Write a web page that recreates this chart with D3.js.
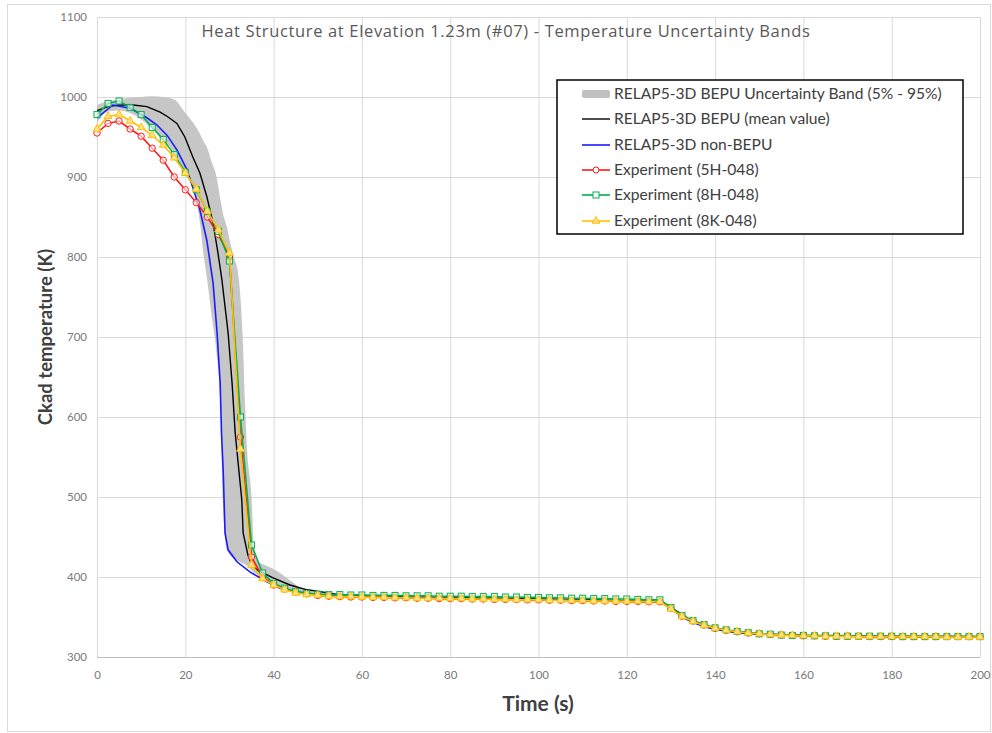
<!DOCTYPE html>
<html><head><meta charset="utf-8">
<script src="https://cdn.jsdelivr.net/npm/d3@7"></script>
<style>
html,body{margin:0;padding:0;background:#fff;}
svg{display:block;font-family:Lato,"Open Sans",sans-serif;}
</style></head>
<body><svg id="c" width="992" height="733"></svg>
<script>
// ---------------- DATA ----------------
const xTicks = [0,20,40,60,80,100,120,140,160,180,200];
const yTicks = [300,400,500,600,700,800,900,1000,1100];

const titleText = "Heat Structure at Elevation 1.23m (#07) - Temperature Uncertainty Bands";
const xLabel = "Time (s)";
const yLabel = "Ckad temperature (K)";
const legendLabels = [
  "RELAP5-3D BEPU Uncertainty Band (5% - 95%)",
  "RELAP5-3D BEPU (mean value)",
  "RELAP5-3D non-BEPU",
  "Experiment (5H-048)",
  "Experiment (8H-048)",
  "Experiment (8K-048)"
];

const bandTime = [0,2.5,5,7.5,10,12.5,15,17.5,20,22.5,23.5,24,25,26,27,28,28.5,29.4,30,31,32,33,33.5,34,35,35.5,36.2,38,40,43.7,46,50,60,80,100,120,127.5,130,135,140,150,200];
const bandLo = [968,982,983,980,972,960,948,930,905,870,835,809,770,725,684,610,496,434,428,423,420,417,416,414,408,406,403,397,390,384,381,378,375,373,371.5,369,368.5,360,343,334,328,325];
const bandHi = [990,995,997,999,1000,1001,1000,997,980,962,952,946,936,918,902,870,855,838,822,800,778,700,621,559,500,440,421,415,410,396,387,381,377,375.5,374,371.5,370.5,363,346,336,330,326.5];

const meanTime = [0,2.5,5,8.2,11.3,14.3,16.1,18.1,19.9,21.7,23.3,24.9,26.3,27.4,28.3,29.7,30.6,31.3,32.8,33.1,34.2,35.1,36.2,39.9,43.7,47.6,55,70,90,110,127.5,130,135,140,145,150,160,180,200];
const meanVal = [983,988,990,990,988,981,975,967,950,925,905,875,842,805,771,705,642,580,496,455,427,415,409,399,390,384,378,375,373.5,371.5,369.5,362,344,335,331,329,327,326,325.5];

const blueTime = [0,3.6,7.5,11.3,13.6,15.9,18.1,20.4,21.7,23.3,24.9,26.3,27.2,27.9,28.2,28.6,29.0,29.7,31.7,34.7,38.5,41.4,46,50,60,75,90,105,120,128,130,132.5,135,137.5,140,145,150,160,175,200];
const blueVal = [974,990,986,974,965,952,934,909,887,859,820,767,705,642,580,530,455,434,419,406,394,386,381,378,375.5,373.5,372.5,371,369.5,368.5,361,350,343,338,334.5,330.5,328.5,326.5,325.5,325];

const expTime = [0,2.5,5,7.5,10,12.5,15,17.5,20,22.5,25,27.5,30,32.5,35,37.5,40,42.5,45,47.5,50,52.5,55,57.5,60,62.5,65,67.5,70,72.5,75,77.5,80,82.5,85,87.5,90,92.5,95,97.5,100,102.5,105,107.5,110,112.5,115,117.5,120,122.5,125,127.5,130,132.5,135,137.5,140,142.5,145,147.5,150,152.5,155,157.5,160,162.5,165,167.5,170,172.5,175,177.5,180,182.5,185,187.5,190,192.5,195,197.5,200];

const exp5H = [955,967,970,960,951,936,921,900,884,868,850,828,800,
  575,425,400,390,385,381,379,377,
  376,375.5,375,375,374.5,374.5,374,374,373.5,373.5,373,373,373,372.5,372.5,372,372,372,371.5,371.5,371,371,370.5,370.5,370,370,369.5,369.5,369.5,369,369,
  361,351,345,340,336,333.5,331.5,330,329,328,327.5,327,326.5,326.5,326,326,326,326,325.5,325.5,325.5,325.5,325.5,325.5,325.5,325.5,325.5,325.5,325.5];

const exp8H = [978,992,995,987,978,962,947,928,906,884,857,832,795,
  600,440,405,392,386,382,379.5,378.5,
  378,378,377.5,377.5,377,377,377,376.5,376.5,376.5,376,376,376,375.5,375.5,375.5,375,375,374.5,374.5,374,374,373.5,373.5,373,373,372.5,372.5,372,371.5,371.5,
  362,352,345.5,340.5,336.5,334,332,330.5,329,328.5,327.5,327,327,326.5,326.5,326,326,326,326,326,326,325.5,325.5,325.5,325.5,325.5,325.5,325.5,325.5];

const exp8K = [960,976,978,970,962,952,940,924,905,885,857,834,805,
  560,415,398,390,384,380,378,377,
  376,375.5,375.5,375,374.5,374.5,374,374,373.5,373.5,373.5,373,373,372.5,372.5,372,372,371.5,371.5,371.5,371,371,370.5,370.5,370,370,370,369.5,369.5,369,369,
  360,350.5,344.5,339.5,336,333.5,331.5,330,329,328,327.5,327,326.5,326.5,326,326,326,325.5,325.5,325.5,325.5,325.5,325.5,325.5,325.5,325,325,325,325];

// ---------------- DRAW ----------------
const svg = d3.select("#c");
const L=97, R=980, T=17, B=657;
const x = d3.scaleLinear().domain([0,200]).range([L,R]);
const y = d3.scaleLinear().domain([300,1100]).range([B,T]);

const colors = {band:"#c0c0c0", mean:"#000000", blue:"#1a1aff", red:"#ff1a1a", green:"#00b050", yellow:"#ffc000"};

// outer frame
svg.append("rect").attr("x",7.5).attr("y",4.5).attr("width",983).attr("height",727)
  .attr("fill","#fff").attr("stroke","#d9d9d9").attr("stroke-width",1);

// gridlines
const gx = svg.append("g").attr("transform",`translate(0,${B})`)
  .call(d3.axisBottom(x).tickValues(xTicks).tickSize(-(B-T)).tickFormat(""));
gx.select(".domain").remove();
gx.selectAll("line").attr("stroke","#d9d9d9");
const gy = svg.append("g").attr("transform",`translate(${L},0)`)
  .call(d3.axisLeft(y).tickValues(yTicks).tickSize(-(R-L)).tickFormat(""));
gy.select(".domain").remove();
gy.selectAll("line").attr("stroke","#d9d9d9");
svg.append("line").attr("x1",L).attr("x2",R).attr("y1",B+0.5).attr("y2",B+0.5).attr("stroke","#bfbfbf");

// axes labels
const ax = svg.append("g").attr("transform",`translate(0,${B})`)
  .call(d3.axisBottom(x).tickValues(xTicks).tickSize(0).tickPadding(14).tickFormat(d3.format("d")));
ax.select(".domain").remove();
ax.selectAll("text").attr("font-family","Lato").attr("font-size",11.5).attr("fill","#7a7a7a");
const ay = svg.append("g").attr("transform",`translate(${L},0)`)
  .call(d3.axisLeft(y).tickValues(yTicks).tickSize(0).tickPadding(10).tickFormat(d3.format("d")));
ay.select(".domain").remove();
ay.selectAll("text").attr("font-family","Lato").attr("font-size",11.5).attr("fill","#7a7a7a");

// band
const bandData = bandTime.map((t,i)=>({t, lo:bandLo[i], hi:bandHi[i]}));
svg.append("path").datum(bandData)
  .attr("d", d3.area().x(d=>x(d.t)).y0(d=>y(d.lo)).y1(d=>y(d.hi)).curve(d3.curveMonotoneX))
  .attr("fill", colors.band).attr("opacity",0.9);

const line = d3.line().x(d=>x(d.t)).y(d=>y(d.v));
function series(times, vals){ return times.map((t,i)=>({t, v:vals[i]})); }

svg.append("path").datum(series(meanTime,meanVal)).attr("d",line)
  .attr("fill","none").attr("stroke",colors.mean).attr("stroke-width",1.4);
svg.append("path").datum(series(blueTime,blueVal)).attr("d",line)
  .attr("fill","none").attr("stroke",colors.blue).attr("stroke-width",1.6);

function expSeries(vals, color, shape){
  const d = series(expTime, vals);
  svg.append("path").datum(d).attr("d",line)
    .attr("fill","none").attr("stroke",color).attr("stroke-width",1.6);
  const g = svg.append("g");
  if(shape==="circle"){
    g.selectAll("circle").data(d).join("circle")
      .attr("cx",p=>x(p.t)).attr("cy",p=>y(p.v)).attr("r",3.2)
      .attr("fill","#fff").attr("fill-opacity",0.6).attr("stroke",color).attr("stroke-width",1);
  } else if(shape==="square"){
    g.selectAll("rect").data(d).join("rect")
      .attr("x",p=>x(p.t)-3).attr("y",p=>y(p.v)-3).attr("width",6).attr("height",6)
      .attr("fill","#fff").attr("fill-opacity",0.6).attr("stroke",color).attr("stroke-width",1);
  } else {
    g.selectAll("path").data(d).join("path")
      .attr("transform",p=>`translate(${x(p.t)},${y(p.v)})`)
      .attr("d", d3.symbol(d3.symbolTriangle, 26))
      .attr("fill","#ffe08a").attr("stroke",color).attr("stroke-width",1);
  }
}
expSeries(exp5H, colors.red, "circle");
expSeries(exp8H, colors.green, "square");
expSeries(exp8K, colors.yellow, "triangle");

// title
svg.append("text").attr("x",506).attr("y",37).attr("text-anchor","middle")
  .attr("font-family","Open Sans").attr("font-size",16.5).attr("letter-spacing",0.65)
  .attr("fill","#595959").text(titleText);

// axis titles
svg.append("text").attr("x",538).attr("y",711).attr("text-anchor","middle")
  .attr("font-family","Lato").attr("font-weight","bold").attr("font-size",21).attr("fill","#404040").text(xLabel);
svg.append("text").attr("transform","translate(52,337) rotate(-90)").attr("text-anchor","middle")
  .attr("font-family","Lato").attr("font-weight","bold").attr("font-size",18.5).attr("fill","#404040").text(yLabel);

// legend
const lg = svg.append("g");
lg.append("rect").attr("x",557).attr("y",80).attr("width",406).attr("height",154)
  .attr("fill","#fff").attr("stroke","#000").attr("stroke-width",1.5);
const rowY = [94,119,145,170,195,221];
const sx0=582, sx1=610;
legendLabels.forEach((lab,i)=>{
  const yy = rowY[i];
  if(i===0){
    lg.append("rect").attr("x",sx0).attr("y",yy-4).attr("width",sx1-sx0).attr("height",8).attr("rx",2)
      .attr("fill",colors.band);
  } else {
    const col = [null,colors.mean,colors.blue,colors.red,colors.green,colors.yellow][i];
    lg.append("line").attr("x1",sx0).attr("x2",sx1).attr("y1",yy).attr("y2",yy)
      .attr("stroke",col).attr("stroke-width",i===1?1.4:1.6);
    const cx=(sx0+sx1)/2;
    if(i===3) lg.append("circle").attr("cx",cx).attr("cy",yy).attr("r",3).attr("fill","#fff").attr("stroke",col);
    if(i===4) lg.append("rect").attr("x",cx-3).attr("y",yy-3).attr("width",6).attr("height",6).attr("fill","#fff").attr("stroke",col);
    if(i===5) lg.append("path").attr("transform",`translate(${cx},${yy})`).attr("d",d3.symbol(d3.symbolTriangle,26)).attr("fill","#ffe08a").attr("stroke",col);
  }
  lg.append("text").attr("x",614).attr("y",yy).attr("dy","0.35em")
    .attr("font-family","Lato").attr("font-size",15.6).attr("fill","#404040").text(lab);
});
</script></body></html>
